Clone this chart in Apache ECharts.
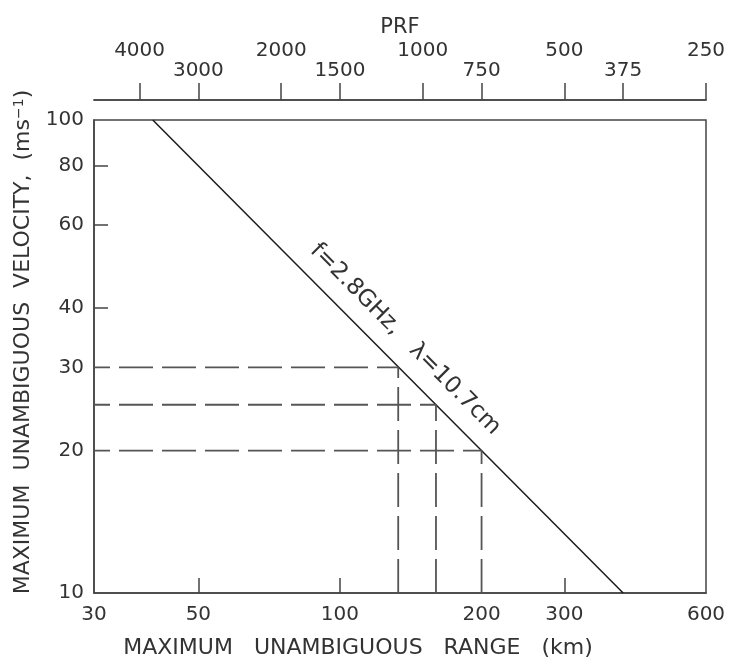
<!DOCTYPE html>
<html>
<head>
<meta charset="utf-8">
<script src="https://cdn.jsdelivr.net/npm/echarts@6/dist/echarts.min.js"></script>
<style>html,body{margin:0;padding:0;background:#fff}#chart{width:729px;height:660px}</style>
</head>
<body>
<div id="chart"></div>
<script>
// ---- data ----
const rangeLabels = [30, 50, 100, 200, 300, 600];
const rangeTicks = [50, 100, 300];
const velocityLabels = [10, 20, 30, 40, 60, 80, 100];
const velocityTicks = [40, 60, 80];
const prfUpperRow = [4000, 2000, 1000, 500, 250];
const prfLowerRow = [3000, 1500, 750, 375];
const curveRange = [40, 400];
const curveVelocity = [100, 10];
const markVelocity = [30, 25, 20];
const markRange = [133, 160, 200];
const curveLabel = 'f=2.8GHz,   λ=10.7cm';

const FONT = 'DejaVu Sans';
const TXT = '#333';
const AX = '#444';

const series = [];
series.push({
  type: 'line', xAxisIndex: 0, yAxisIndex: 0, symbol: 'none', silent: true,
  data: curveRange.map((r, i) => [r, curveVelocity[i]]),
  lineStyle: { color: '#1a1a1a', width: 1.5 },
  markLine: {
    symbol: ['none', 'none'], silent: true, animation: false,
    lineStyle: { color: 'rgba(0,0,0,0)', width: 1, type: 'solid' },
    label: { show: true, position: 'insideMiddleTop', distance: 13, formatter: curveLabel,
      fontFamily: FONT, fontSize: 23, color: TXT },
    emphasis: { disabled: true },
    data: [[{ coord: [curveRange[0], curveVelocity[0]] }, { coord: [curveRange[1], curveVelocity[1]] }]]
  }
});
markVelocity.forEach((v, i) => {
  series.push({
    type: 'line', xAxisIndex: 0, yAxisIndex: 0, symbol: 'none', silent: true,
    data: [[rangeLabels[0], v], [markRange[i], v]],
    lineStyle: { color: '#555', width: 1.8, type: [34, 9], dashOffset: 18 }
  });
  series.push({
    type: 'line', xAxisIndex: 0, yAxisIndex: 0, symbol: 'none', silent: true,
    data: [[markRange[i], velocityLabels[0]], [markRange[i], v]],
    lineStyle: { color: '#555', width: 1.8, type: [34, 9], dashOffset: 0 }
  });
});

const topAxis = (vals, margin, showName) => ({
  type: 'log', logBase: 10, position: 'top', offset: 20, gridIndex: 0,
  min: 250, max: 5000, inverse: true,
  name: showName ? 'PRF' : '', nameLocation: 'middle', nameGap: 62, nameMoveOverlap: false,
  nameTextStyle: { fontFamily: FONT, fontSize: 21, color: TXT },
  axisLine: { show: true, lineStyle: { color: AX, width: 1.5 } },
  axisTick: { show: true, inside: false, length: 17, customValues: vals, lineStyle: { color: AX, width: 1.5 } },
  axisLabel: { show: true, margin: margin, customValues: vals, formatter: v => String(Math.round(v)),
    fontFamily: FONT, fontSize: 20, color: TXT },
  splitLine: { show: false }, minorTick: { show: false }
});

const option = {
  animation: false,
  backgroundColor: '#fff',
  grid: { left: 94, right: 23, top: 120, bottom: 67, show: true, borderColor: AX, borderWidth: 1.5,
    containLabel: false, outerBoundsMode: 'none' },
  xAxis: [
    {
      type: 'log', logBase: 10, min: 30, max: 600, position: 'bottom',
      name: 'MAXIMUM   UNAMBIGUOUS   RANGE   (km)', nameLocation: 'middle', nameGap: 44, nameMoveOverlap: false,
      nameTextStyle: { fontFamily: FONT, fontSize: 22, color: TXT, padding: [0, 84, 0, 0] },
      axisLine: { show: true, lineStyle: { color: AX, width: 1.5 } },
      axisTick: { show: true, inside: true, length: 15, customValues: rangeTicks, lineStyle: { color: AX, width: 1.5 } },
      axisLabel: { show: true, margin: 12, customValues: rangeLabels, formatter: v => String(Math.round(v)),
        fontFamily: FONT, fontSize: 20, color: TXT },
      splitLine: { show: false }, minorTick: { show: false }
    },
    topAxis(prfUpperRow, 39, true),
    topAxis(prfLowerRow, 19, false)
  ],
  yAxis: [{
    type: 'log', logBase: 10, min: 10, max: 100,
    name: 'MAXIMUM  UNAMBIGUOUS  VELOCITY,  (ms{sup|−1})', nameLocation: 'middle', nameGap: 60, nameMoveOverlap: false,
    nameTextStyle: { fontFamily: FONT, fontSize: 22, color: TXT, padding: [0, 0, 0, 29],
      rich: { sup: { fontFamily: FONT, fontSize: 14, color: TXT, verticalAlign: 'top' } } },
    axisLine: { show: true, lineStyle: { color: AX, width: 1.5 } },
    axisTick: { show: true, inside: true, length: 14, customValues: velocityTicks, lineStyle: { color: AX, width: 1.5 } },
    axisLabel: { show: true, margin: 10, customValues: velocityLabels, formatter: v => String(Math.round(v)),
      fontFamily: FONT, fontSize: 20, color: TXT },
    splitLine: { show: false }, minorTick: { show: false }
  }],
  series: series
};

const chart = echarts.init(document.getElementById('chart'), null, { renderer: 'canvas' });
chart.setOption(option);
</script>
</body>
</html>
